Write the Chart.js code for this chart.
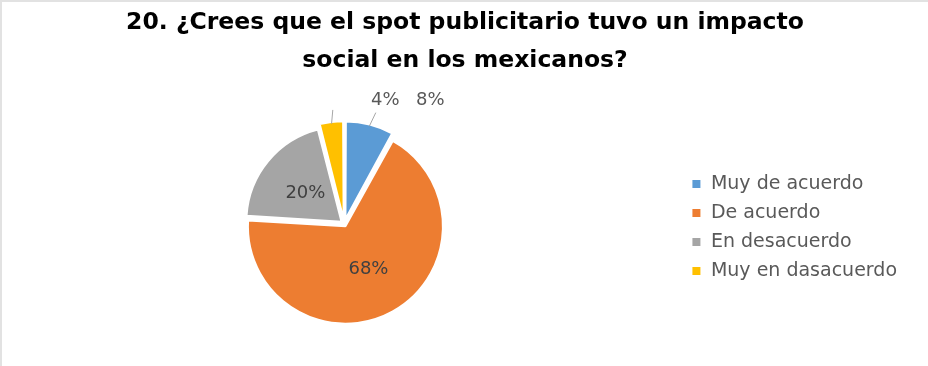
<!DOCTYPE html>
<html>
<head>
<meta charset="utf-8">
<script src="https://cdn.jsdelivr.net/npm/chart.js@4"></script>
<style>
  html, body { margin: 0; padding: 0; background: #fff; }
  #wrap {
    width: 928px; height: 366px; box-sizing: border-box;
    border-top: 2px solid #e2e2e2; border-left: 2px solid #e2e2e2;
  }
  canvas { display: block; }
</style>
</head>
<body>
<div id="wrap"><canvas id="pieChart" width="926" height="364"></canvas></div>
<script>
// Encuesta: pregunta 20
const respuestas = ['Muy de acuerdo', 'De acuerdo', 'En desacuerdo', 'Muy en dasacuerdo'];
const porcentajes = [8, 68, 20, 4];
const colores = ['#5B9BD5', '#ED7D31', '#A5A5A5', '#FFC000'];
const titulo = ['20. ¿Crees que el spot publicitario tuvo un impacto', 'social en los mexicanos?'];

const FONT = "'DejaVu Sans', 'Liberation Sans', Arial, sans-serif";

// title centred on the whole canvas (the built-in one gets pushed around by the legend padding)
const tituloCentrado = {
    id: 'tituloCentrado',
    afterDraw(chart) {
        const ctx = chart.ctx;
        ctx.save();
        ctx.font = 'bold 23.5px ' + FONT;
        ctx.fillStyle = '#000000';
        ctx.textAlign = 'center';
        ctx.textBaseline = 'middle';
        titulo.forEach((linea, i) => ctx.fillText(linea, chart.width / 2, 21 + i * 38));
        ctx.restore();
    }
};

// draws the % labels; small slices get their label above the pie with a short leader line
const pieLabels = {
    id: 'pieLabels',
    afterDatasetsDraw(chart) {
        const ctx = chart.ctx;
        const arcs = chart.getDatasetMeta(0).data;
        ctx.save();
        ctx.font = '18px ' + FONT;
        ctx.textAlign = 'center';
        ctx.textBaseline = 'middle';
        arcs.forEach((arc, i) => {
            const p = arc.getProps(['x', 'y', 'startAngle', 'endAngle', 'outerRadius']);
            const mid = (p.startAngle + p.endAngle) / 2;
            const text = porcentajes[i] + '%';
            if (porcentajes[i] >= 15) {
                const r = p.outerRadius * 0.53;
                ctx.fillStyle = '#404040';
                ctx.fillText(text, p.x + Math.cos(mid) * r, p.y + Math.sin(mid) * r + 1);
            } else {
                // leader line
                ctx.strokeStyle = '#a6a6a6';
                ctx.lineWidth = 1;
                ctx.beginPath();
                ctx.moveTo(p.x + Math.cos(mid) * (p.outerRadius + 6), p.y + Math.sin(mid) * (p.outerRadius + 6));
                ctx.lineTo(p.x + Math.cos(mid) * (p.outerRadius + 20) + 3, p.y + Math.sin(mid) * (p.outerRadius + 20));
                ctx.stroke();
            }
        });
        // outside labels in a row above the pie, smallest first
        const first = arcs[0].getProps(['x', 'y', 'outerRadius']);
        const ly = first.y - first.outerRadius - 29;
        ctx.fillStyle = '#595959';
        ctx.fillText(porcentajes[3] + '%', first.x + 41, ly);
        ctx.fillText(porcentajes[0] + '%', first.x + 86, ly);
        ctx.restore();
    }
};

new Chart(document.getElementById('pieChart'), {
    type: 'pie',
    data: {
        labels: respuestas,
        datasets: [{
            data: porcentajes,
            backgroundColor: colores,
            borderColor: '#ffffff',
            borderWidth: 2,
            // arc offset is drawn at a quarter of this value
            offset: [20, 10, 14, 18],
            radius: 95
        }]
    },
    options: {
        responsive: false,
        animation: false,
        layout: { padding: { left: 5, right: 21, top: 81, bottom: 1 } },
        plugins: {
            title: { display: false },
            legend: {
                position: 'right',
                // empty title only used as top spacing for the list
                title: { display: true, text: '', font: { size: 6, lineHeight: 1 }, padding: { top: 0, bottom: 1 } },
                labels: {
                    boxWidth: 10,
                    boxHeight: 10,
                    padding: 10,
                    color: '#595959',
                    font: { family: FONT, size: 19 }
                }
            },
            tooltip: { enabled: false }
        }
    },
    plugins: [pieLabels, tituloCentrado]
});
</script>
</body>
</html>
